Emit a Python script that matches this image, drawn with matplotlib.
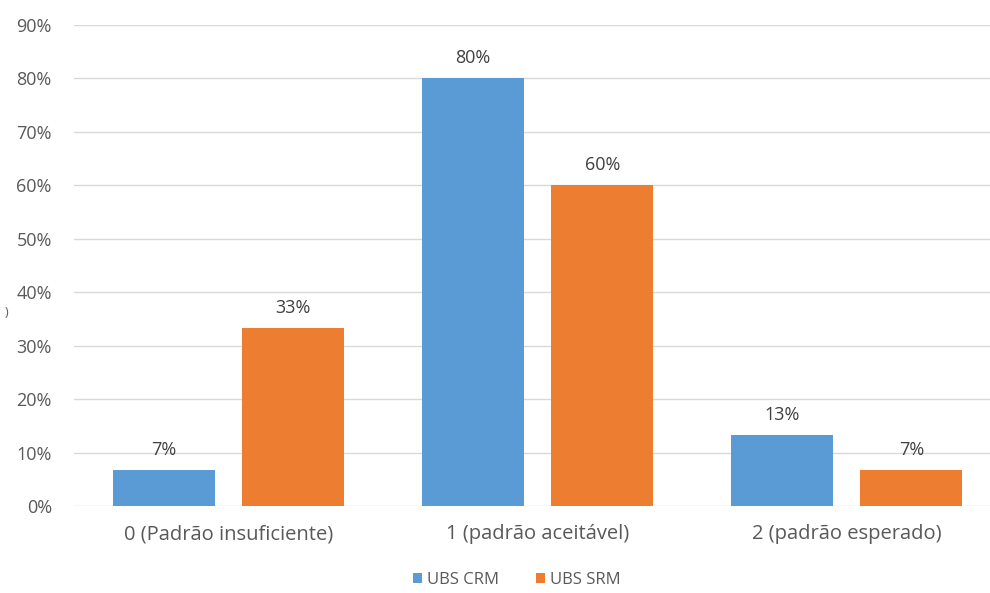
import matplotlib
matplotlib.use("Agg")
import matplotlib.pyplot as plt
from matplotlib.ticker import PercentFormatter

# Chart data
categories = ["0 (Padrão insuficiente)", "1 (padrão aceitável)", "2 (padrão esperado)"]
series_names = ["UBS CRM", "UBS SRM"]
ubs_crm = [6.67, 80.0, 13.33]
ubs_srm = [33.33, 60.0, 6.67]
y_ticks = [0, 10, 20, 30, 40, 50, 60, 70, 80, 90]

colors = ["#5B9BD5", "#ED7D31"]
text_color = "#595959"
grid_color = "#D9D9D9"

plt.rcParams["font.family"] = ["Open Sans", "DejaVu Sans"]

fig = plt.figure(figsize=(9.9, 5.93), dpi=100)
W, H = 990, 593
left, right, top, bottom = 74, 990, 25, 506
ax = fig.add_axes([left / W, 1 - bottom / H, (right - left) / W, (bottom - top) / H])

width = 0.33
offset = 0.21
x = range(len(categories))
for vals, name, color, sign in [(ubs_crm, series_names[0], colors[0], -1),
                                (ubs_srm, series_names[1], colors[1], 1)]:
    pos = [i + sign * offset for i in x]
    bars = ax.bar(pos, vals, width=width, color=color, label=name, zorder=3)
    for b, v in zip(bars, vals):
        ax.annotate(f"{v:.0f}%", (b.get_x() + b.get_width() / 2, v),
                    xytext=(0, 8), textcoords="offset points",
                    ha="center", va="bottom", fontsize=13, color="#404040")

ax.set_xlim(-0.5, 2.5 - 11 / 309)
ax.set_ylim(0, 90)
ax.set_yticks(y_ticks)
ax.yaxis.set_major_formatter(PercentFormatter(decimals=0))
ax.set_xticks(list(x))
ax.set_xticklabels(categories)
ax.grid(axis="y", color=grid_color, linewidth=1, zorder=0)
for s in ax.spines.values():
    s.set_visible(False)
ax.tick_params(axis="both", length=0, colors=text_color)
ax.tick_params(axis="y", pad=16, labelsize=13)
ax.tick_params(axis="x", pad=13, labelsize=14.5)

fig.text(5 / W, 1 - 312 / H, ")", fontsize=9, color=text_color, ha="left", va="center")

ax.legend(loc="center", bbox_to_anchor=(517 / W, 1 - 580 / H), bbox_transform=fig.transFigure,
          ncol=2, frameon=False, fontsize=12, handlelength=0.55, handleheight=0.55,
          handletextpad=0.3, columnspacing=2.2, labelcolor=text_color)

fig.savefig("out.png", dpi=100)
